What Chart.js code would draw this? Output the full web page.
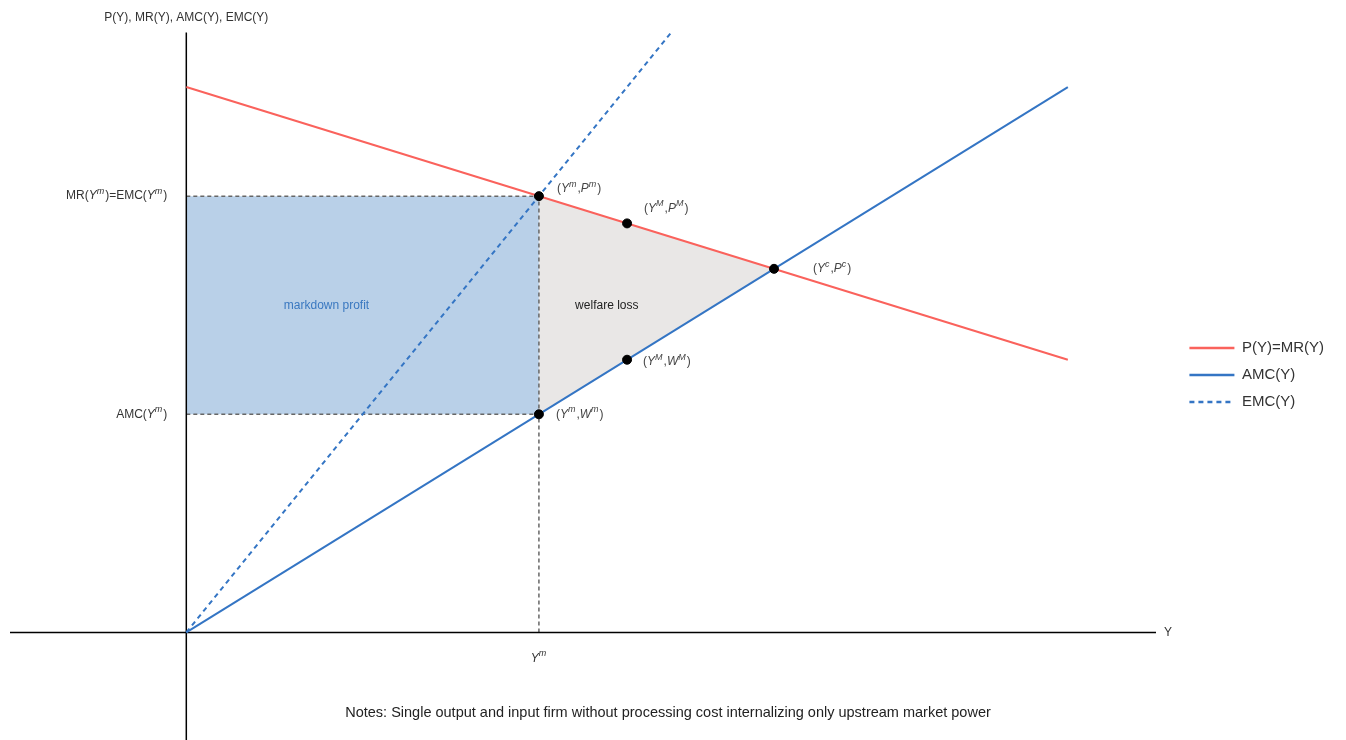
<!DOCTYPE html>
<html>
<head>
<meta charset="utf-8">
<script src="https://cdn.jsdelivr.net/npm/chart.js@4.4.1/dist/chart.umd.min.js"></script>
<style>
  html, body { margin: 0; padding: 0; background: #fff; }
  #wrap { width: 1346px; height: 740px; position: relative; }
</style>
</head>
<body>
<div id="wrap"><canvas id="marketChart"></canvas></div>
<script>
// Schedules (Y on the horizontal axis)
const outputGrid = [0, 10];
const priceMR = [10, 5];
const amcValues = [0, 10];
const emcOutput = [0, 5.5];
const emcValues = [0, 11];

// Axis extents drawn as lines through the origin
const axisRange = [-2, 11];

// Key points
const keyPointX = [4, 5, 6.667, 5, 4];
const keyPointY = [8, 7.5, 6.667, 5, 4];
const keyPointLabels = ['({Y}^m,{P}^m)', '({Y}^M,{P}^M)', '({Y}^c,{P}^c)', '({Y}^M,{W}^M)', '({Y}^m,{W}^m)'];

// Shaded regions
const markdownX = [0, 4];
const markdownTop = [8, 8];
const markdownBottom = [4, 4];
const welfareX = [4, 6.667];
const welfareTop = [8, 6.667];
const welfareBottom = [4, 6.667];

// Region captions placed at (Y, value)
const regionNames = ['markdown profit', 'welfare loss'];
const regionX = [1.59, 4.77];
const regionY = [6, 6];

// Tick-like labels
const yTickValues = [8, 4];
const yTickLabels = ['MR({Y}^m)=EMC({Y}^m)', 'AMC({Y}^m)'];
const xTickValues = [4];
const xTickLabels = ['{Y}^m'];

const redLine = 'rgb(250, 98, 92)';
const blueLine = 'rgb(52, 117, 196)';
const guideGray = '#666';
const labelOffsets = [[18, -7], [17, -15], [39, 0], [16, 2], [17, 0]];
const regionColors = ['#3a78c0', '#222'];

function pts(xs, ys) {
  return xs.map((x, i) => ({ x: x, y: ys[i] }));
}

function lineSet(label, data, color, width, dash) {
  return {
    label: label, data: data, borderColor: color, backgroundColor: color,
    borderWidth: width, borderDash: dash || [], pointRadius: 0, fill: false, tension: 0
  };
}

function areaSet(data, fillTarget, color) {
  return {
    label: '', data: data, borderWidth: 0, pointRadius: 0,
    borderColor: 'rgba(0,0,0,0)', backgroundColor: color, fill: fillTarget
  };
}

// rich text: {..} italic, ^c superscript
function richParts(str) {
  const parts = [];
  let italic = false;
  for (let i = 0; i < str.length; i++) {
    const c = str[i];
    if (c === '{') { italic = true; continue; }
    if (c === '}') { italic = false; continue; }
    if (c === '^') { parts.push({ t: str[++i], italic: true, sup: true }); continue; }
    parts.push({ t: c, italic: italic, sup: false });
  }
  return parts;
}

function drawRich(ctx, str, x, y, size, align, color) {
  const parts = richParts(str);
  const fontOf = p => (p.italic ? 'italic ' : '') + (p.sup ? Math.round(size * 0.75) : size) +
    'px "Liberation Sans", Arial, sans-serif';
  let w = 0;
  parts.forEach(p => {
    ctx.font = fontOf(p);
    p.w = ctx.measureText(p.t).width + (p.sup ? 1 : 0);
    w += p.w;
  });
  let cx = align === 'right' ? x - w : align === 'center' ? x - w / 2 : x;
  ctx.fillStyle = color;
  ctx.textBaseline = 'middle';
  ctx.textAlign = 'left';
  parts.forEach(p => {
    ctx.font = fontOf(p);
    ctx.fillText(p.t, cx, p.sup ? y - size * 0.38 : y);
    cx += p.w;
  });
}

const annotationPlugin = {
  id: 'annotations',
  afterDraw(chart) {
    const ctx = chart.ctx;
    const xs = chart.scales.x, ys = chart.scales.y;
    const x0 = xs.getPixelForValue(0), y0 = ys.getPixelForValue(0);
    ctx.save();
    keyPointLabels.forEach((lab, i) => {
      drawRich(ctx, lab, xs.getPixelForValue(keyPointX[i]) + labelOffsets[i][0],
        ys.getPixelForValue(keyPointY[i]) + labelOffsets[i][1], 12, 'left', '#444');
    });
    yTickLabels.forEach((lab, i) => {
      drawRich(ctx, lab, x0 - 19, ys.getPixelForValue(yTickValues[i]), 12, 'right', '#333');
    });
    xTickLabels.forEach((lab, i) => {
      drawRich(ctx, lab, xs.getPixelForValue(xTickValues[i]), y0 + 26, 12, 'center', '#333');
    });
    regionNames.forEach((name, i) => {
      drawRich(ctx, name, xs.getPixelForValue(regionX[i]), ys.getPixelForValue(regionY[i]), 12, 'center', regionColors[i]);
    });
    drawRich(ctx, 'P(Y), MR(Y), AMC(Y), EMC(Y)', x0, ys.getPixelForValue(axisRange[1]) - 15, 12, 'center', '#333');
    drawRich(ctx, 'Y', xs.getPixelForValue(axisRange[1]) + 8, y0, 12, 'left', '#333');
    drawRich(ctx, 'Notes: Single output and input firm without processing cost internalizing only upstream market power',
      668, 713, 14.5, 'center', '#222');
    ctx.restore();
  }
};

const ctx = document.getElementById('marketChart').getContext('2d');

const yAxisLine = lineSet('yaxis', pts([0, 0], axisRange), '#000', 1.5);
yAxisLine.clip = false;

const datasets = [
  {
    label: 'points', data: pts(keyPointX, keyPointY), showLine: false,
    pointRadius: 4.5, pointHoverRadius: 4.5, pointBackgroundColor: '#000', pointBorderColor: '#000'
  },
  lineSet('P(Y)=MR(Y)', pts(outputGrid, priceMR), redLine, 2),
  lineSet('AMC(Y)', pts(outputGrid, amcValues), blueLine, 2),
  lineSet('EMC(Y)', pts(emcOutput, emcValues), blueLine, 2, [5, 4]),
  lineSet('xaxis', pts(axisRange, [0, 0]), '#000', 1.5),
  yAxisLine,
  lineSet('guide1', pts(markdownX, markdownTop), guideGray, 1.5, [4, 3]),
  lineSet('guide2', pts(markdownX, markdownBottom), guideGray, 1.5, [4, 3]),
  lineSet('guide3', pts([xTickValues[0], xTickValues[0]], [0, markdownTop[0]]), guideGray, 1.5, [4, 3]),
  areaSet(pts(markdownX, markdownTop), 10, 'rgb(185, 208, 232)'),
  areaSet(pts(markdownX, markdownBottom), false, 'rgba(0,0,0,0)'),
  areaSet(pts(welfareX, welfareTop), 12, 'rgb(233, 231, 230)'),
  areaSet(pts(welfareX, welfareBottom), false, 'rgba(0,0,0,0)')
];

const legendNames = ['P(Y)=MR(Y)', 'AMC(Y)', 'EMC(Y)'];

new Chart(ctx, {
  type: 'line',
  data: { datasets: datasets },
  options: {
    responsive: true,
    maintainAspectRatio: false,
    animation: false,
    layout: { padding: { left: 10, right: 12, top: 10, bottom: 0 } },
    scales: {
      x: { type: 'linear', min: -2, max: 11.243, display: false },
      y: { type: 'linear', min: -1.872, max: 11.413, display: false }
    },
    plugins: {
      tooltip: { enabled: false },
      legend: {
        position: 'right',
        labels: {
          usePointStyle: true,
          pointStyle: 'line',
          pointStyleWidth: 45,
          color: '#333',
          padding: 12,
          font: { family: '"Liberation Sans", Arial, sans-serif', size: 15 },
          filter: item => legendNames.includes(item.text),
          generateLabels: chart => {
            const items = Chart.defaults.plugins.legend.labels.generateLabels(chart);
            items.forEach(item => {
              const ds = chart.data.datasets[item.datasetIndex];
              item.lineDash = ds.borderDash;
              item.lineWidth = 2.5;
              item.strokeStyle = ds.borderColor;
            });
            return items;
          }
        }
      }
    }
  },
  plugins: [annotationPlugin]
});
</script>
</body>
</html>
